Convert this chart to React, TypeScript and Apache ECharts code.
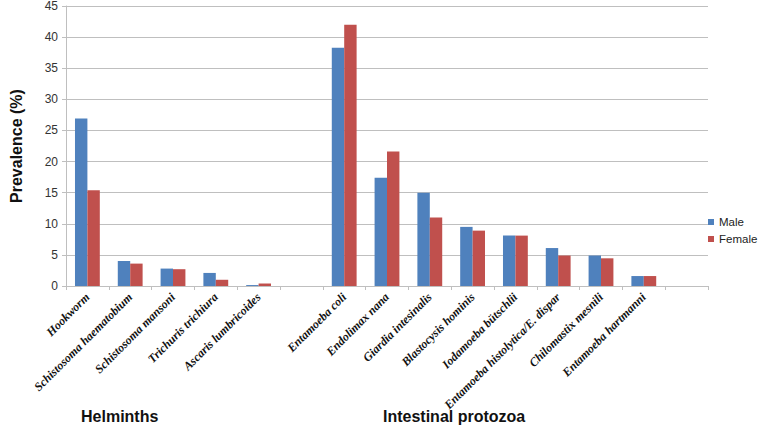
import React, { useEffect, useRef } from "react";
import * as echarts from "echarts";

const categories = [
  "Hookworm",
  "Schistosoma haematobium",
  "Schistosoma mansoni",
  "Trichuris trichiura",
  "Ascaris lumbricoides",
  "",
  "Entamoeba coli",
  "Endolimax nana",
  "Giardia intesinalis",
  "Blastocysis hominis",
  "Iodamoeba bütschlii",
  "Entamoeba histolytica/E. dispar",
  "Chilomastix mesnili",
  "Entamoeba hartmanni",
  "",
];
const maleValues = [26.9, 4.0, 2.8, 2.1, 0.15, 0, 38.3, 17.4, 15.0, 9.5, 8.1, 6.1, 4.9, 1.6, 0];
const femaleValues = [15.4, 3.6, 2.7, 1.0, 0.4, 0, 42.0, 21.6, 11.0, 8.9, 8.1, 4.9, 4.45, 1.6, 0];
const yTicks = { min: 0, max: 45, interval: 5 };
const groupLabels = ["Helminths", "Intestinal protozoa"];

export default function App() {
  const ref = useRef<HTMLDivElement>(null);
  useEffect(() => {
    if (!ref.current) return;
    const chart = echarts.init(ref.current, null, { renderer: "svg" });
    const grey = "#bfbfbf";
    chart.setOption({
      animation: false,
      backgroundColor: "#ffffff",
      grid: { left: 52, right: 50, top: 5, bottom: 147, containLabel: false },
      legend: {
        orient: "vertical",
        left: 708,
        top: 216,
        padding: 0,
        itemWidth: 6,
        itemHeight: 6,
        itemGap: 5,
        icon: "rect",
        textStyle: {
          fontFamily: "Liberation Sans, Arial",
          fontSize: 11.5,
          color: "#222",
          overflow: "none",
        },
        data: ["Male", "Female"],
      },
      xAxis: {
        type: "category",
        data: categories,
        axisLine: { lineStyle: { color: grey } },
        axisTick: { show: true, alignWithLabel: false, length: 4, lineStyle: { color: grey }, interval: 0 },
        axisLabel: {
          interval: 0,
          rotate: 45,
          margin: 9,
          fontFamily: "Liberation Serif, Times New Roman",
          fontStyle: "italic",
          fontWeight: "bold",
          fontSize: 12,
          color: "#111",
        },
      },
      yAxis: {
        type: "value",
        min: yTicks.min,
        max: yTicks.max,
        interval: yTicks.interval,
        name: "Prevalence (%)",
        nameLocation: "middle",
        nameGap: 42,
        nameTextStyle: { fontFamily: "Liberation Sans, Arial", fontWeight: "bold", fontSize: 16, color: "#111" },
        axisLine: { show: true, lineStyle: { color: grey } },
        axisTick: { show: true, length: 4, lineStyle: { color: grey } },
        axisLabel: { fontFamily: "Liberation Sans, Arial", fontSize: 12, color: "#333", margin: 8 },
        splitLine: { lineStyle: { color: grey, width: 1 } },
      },
      series: [
        {
          name: "Male",
          type: "bar",
          data: maleValues,
          barGap: "0%",
          barCategoryGap: "42%",
          itemStyle: { color: "#4F81BD" },
        },
        {
          name: "Female",
          type: "bar",
          data: femaleValues,
          itemStyle: { color: "#C0504D" },
        },
      ],
      graphic: [
        {
          type: "text",
          left: 81,
          top: 408,
          style: { text: groupLabels[0], fontFamily: "Liberation Sans, Arial", fontWeight: "bold", fontSize: 16, fill: "#111" },
        },
        {
          type: "text",
          left: 383,
          top: 408,
          style: { text: groupLabels[1], fontFamily: "Liberation Sans, Arial", fontWeight: "bold", fontSize: 16, fill: "#111" },
        },
      ],
    });
    return () => chart.dispose();
  }, []);
  return <div ref={ref} style={{ width: 758, height: 433, position: "fixed", left: 0, top: 0 }} />;
}
